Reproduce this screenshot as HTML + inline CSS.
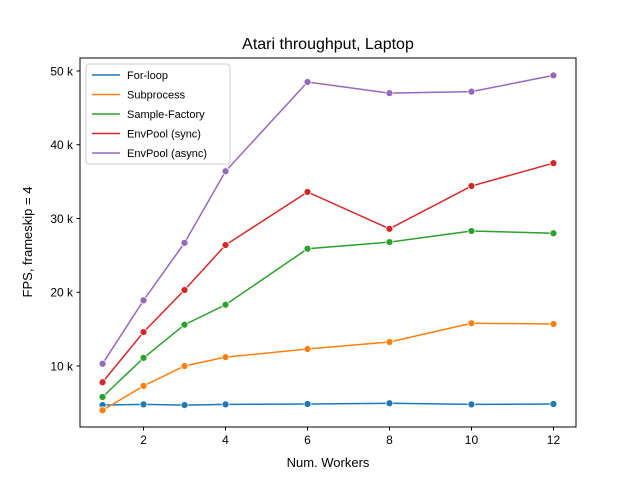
<!DOCTYPE html>
<html><head><meta charset="utf-8"><style>
body{margin:0;background:#fff}
text{font-family:"Liberation Sans","DejaVu Sans",sans-serif}
</style></head><body>
<svg id="chart" width="640" height="480" xmlns="http://www.w3.org/2000/svg">
<rect width="640" height="480" fill="#fff"/>
<text x="328" y="49" text-anchor="middle" font-size="16">Atari throughput, Laptop</text>
<g id="grid"></g>
<g id="marks"></g>
<rect x="80" y="58" width="496" height="369" fill="none" stroke="#000" stroke-width="1"/>
<text x="328" y="467" text-anchor="middle" font-size="13">Num. Workers</text>
<text transform="translate(32,242) rotate(-90)" text-anchor="middle" font-size="13">FPS, frameskip = 4</text>
<g id="legend"></g>
</svg>
<script>
const workers = [1,2,3,4,6,8,10,12];
const seriesNames = ["For-loop","Subprocess","Sample-Factory","EnvPool (sync)","EnvPool (async)"];
const colors = ["#1f77b4","#ff7f0e","#2ca02c","#d62728","#9467bd"];
const forLoop = [4.7,4.8,4.7,4.8,4.85,4.95,4.8,4.85];
const subprocess = [4.0,7.3,10.0,11.2,12.3,13.25,15.8,15.7];
const sampleFactory = [5.8,11.1,15.6,18.3,25.9,26.8,28.3,28.0];
const envpoolSync = [7.8,14.6,20.3,26.4,33.6,28.6,34.4,37.5];
const envpoolAsync = [10.3,18.9,26.7,36.4,48.5,47.0,47.2,49.4];
const xTicks = [2,4,6,8,10,12];
const yTicks = [10,20,30,40,50];
const yTickLabels = ["10 k","20 k","30 k","40 k","50 k"];

const NS="http://www.w3.org/2000/svg";
const X0=80,X1=576,Y0=427,Y1=58, xmin=0.45,xmax=12.55, ymin=1.73,ymax=51.76;
function sx(v){return X0+(v-xmin)/(xmax-xmin)*(X1-X0);}
function sy(v){return Y0-(v-ymin)/(ymax-ymin)*(Y0-Y1);}
function mk(tag,attrs,parent){const e=document.createElementNS(NS,tag);for(const k in attrs)e.setAttribute(k,attrs[k]);parent.appendChild(e);return e;}
const svg=document.getElementById('chart');
const grid=document.getElementById('grid');
xTicks.forEach(t=>{
  const l=mk('line',{x1:sx(t),x2:sx(t),y1:Y0,y2:Y0+3.5,stroke:'#000'},grid);
  
  
  const tx=mk('text',{x:sx(t),y:Y0+17,'text-anchor':'middle','font-size':'12'},grid);
  tx.textContent=t;
  
  
});
yTicks.forEach((t,i)=>{
  const l=mk('line',{x1:X0-3.5,x2:X0,y1:sy(t),y2:sy(t),stroke:'#000'},grid);
  
  
  const tx=mk('text',{x:X0-7,y:sy(t)+4.5,'text-anchor':'end','font-size':'12'},grid);
  tx.textContent=yTickLabels[i];
  
  
});
const all=[forLoop,subprocess,sampleFactory,envpoolSync,envpoolAsync];
const marks=document.getElementById('marks');
all.forEach((s,si)=>{
  const pts=s.map((v,i)=>sx(workers[i])+','+sy(v)).join(' ');
  const pl=mk('polyline',{points:pts,fill:'none',stroke:colors[si],'stroke-width':1.5},marks);
  
  
  s.forEach((v,i)=>{
    const c=mk('circle',{cx:sx(workers[i]),cy:sy(v),r:3.5,fill:colors[si],stroke:'#fff','stroke-width':0.75},marks);
    
    
  });
});
const lg=document.getElementById('legend');
const box=mk('rect',{x:86,y:64,width:144,height:100,rx:3,fill:'#fff','fill-opacity':0.8,stroke:'#ccc'},lg);


seriesNames.forEach((n,i)=>{
  const y=75+i*19.5;
  const l=mk('line',{x1:92,x2:120,y1:y,y2:y,stroke:colors[i],'stroke-width':1.5},lg);
  
  
  const t=mk('text',{x:127,y:y+4,'font-size':'11'},lg);
  t.textContent=n;
  
  
});
</script>
</body></html>
